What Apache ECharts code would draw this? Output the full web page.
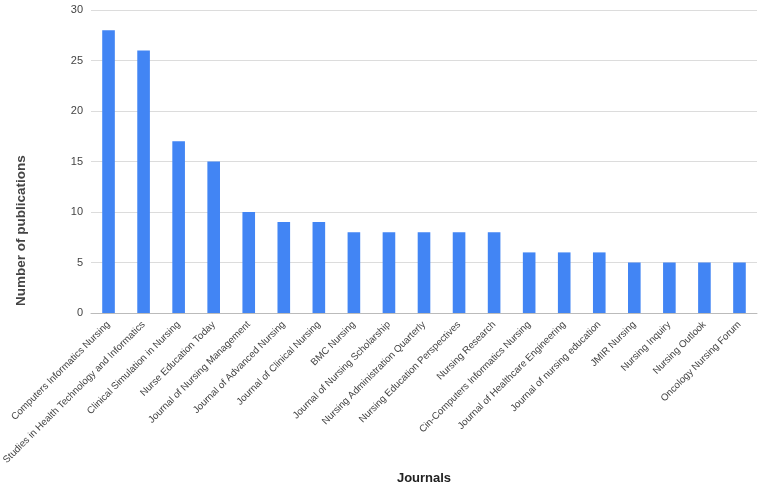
<!DOCTYPE html>
<html>
<head>
<meta charset="utf-8">
<script src="https://cdn.jsdelivr.net/npm/echarts@6/dist/echarts.min.js"></script>
<style>
html, body { margin: 0; padding: 0; background: #fff; }
#chart { width: 764px; height: 487px; }
</style>
</head>
<body>
<div id="chart"></div>
<script>
var journals = ['Computers Informatics Nursing', 'Studies in Health Technology and Informatics',
    'Clinical Simulation in Nursing', 'Nurse Education Today', 'Journal of Nursing Management',
    'Journal of Advanced Nursing', 'Journal of Clinical Nursing', 'BMC Nursing',
    'Journal of Nursing Scholarship', 'Nursing Administration Quarterly',
    'Nursing Education Perspectives', 'Nursing Research', 'Cin-Computers Informatics Nursing',
    'Journal of Healthcare Engineering', 'Journal of nursing education', 'JMIR Nursing',
    'Nursing Inquiry', 'Nursing Outlook', 'Oncology Nursing Forum'];
var publications = [28, 26, 17, 15, 10, 9, 9, 8, 8, 8, 8, 8, 6, 6, 6, 5, 5, 5, 5];
var yTicks = [0, 5, 10, 15, 20, 25, 30];

var chart = echarts.init(document.getElementById('chart'));

var option = {
    animation: false,
    textStyle: { fontFamily: 'Liberation Sans, Arial, sans-serif' },
    grid: {
        left: 91,
        right: 7,
        top: 10,
        bottom: 174,
        containLabel: false,
        outerBoundsMode: 'none'
    },
    graphic: [{
        type: 'text',
        style: {
            text: 'Number of publications',
            font: 'bold 13.5px Liberation Sans, Arial, sans-serif',
            fill: '#444'
        },
        rotation: Math.PI / 2,
        x: 14,
        y: 306
    }],
    xAxis: {
        type: 'category',
        data: journals,
        name: 'Journals',
        nameLocation: 'middle',
        nameGap: 152,
        nameTextStyle: {
            color: '#222',
            fontSize: 13,
            fontWeight: 'bold'
        },
        axisTick: { show: false },
        axisLine: { lineStyle: { color: '#bbb' } },
        axisLabel: {
            interval: 0,
            rotate: 45,
            color: '#444',
            fontSize: 9.8,
            margin: 10
        }
    },
    yAxis: {
        type: 'value',
        min: yTicks[0],
        max: yTicks[yTicks.length - 1],
        interval: 5,
        axisLabel: {
            color: '#444',
            fontSize: 11,
            margin: 8
        },
        axisLine: { show: false },
        axisTick: { show: false },
        splitLine: { lineStyle: { color: '#dcdcdc' } }
    },
    series: [{
        name: 'Number of publications',
        type: 'bar',
        barWidth: '36%',
        itemStyle: { color: '#4285F4' },
        data: publications
    }]
};
chart.setOption(option);
</script>
</body>
</html>
